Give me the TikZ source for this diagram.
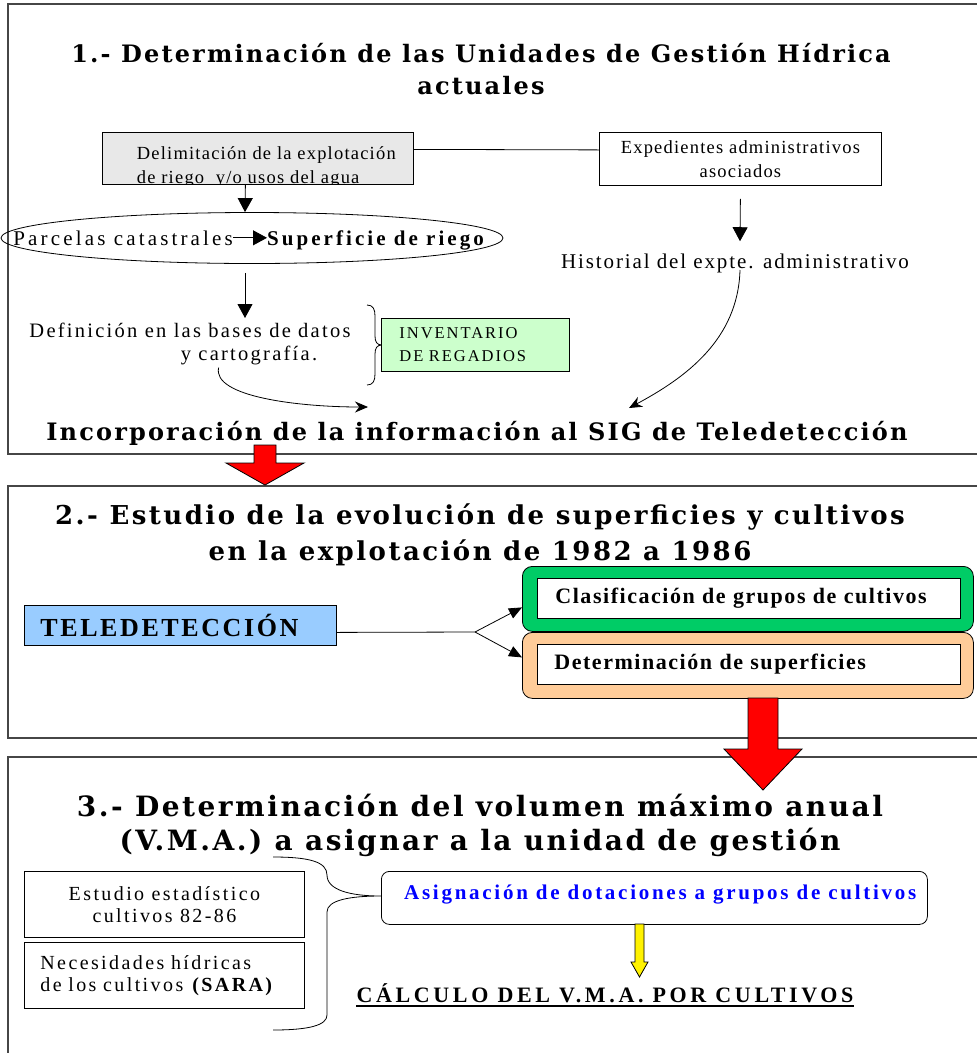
\documentclass[tikz,border=0pt]{standalone}
\usepackage{fontspec}
\setmainfont{Liberation Serif}
\newfontfamily\titfont{DejaVu Serif}
\usetikzlibrary{arrows.meta,shapes.geometric,positioning}

\definecolor{secgray}{RGB}{70,70,70}
\definecolor{grisbox}{RGB}{232,232,232}
\definecolor{verdeinv}{RGB}{204,255,204}
\definecolor{azultele}{RGB}{153,204,255}
\definecolor{verdeclas}{RGB}{0,204,102}
\definecolor{naranja}{RGB}{255,204,153}
\definecolor{azulasig}{RGB}{0,0,255}

\tikzset{
  seccion/.style={draw=secgray,line width=1.3pt},
  caja/.style={draw,line width=0.8pt,inner sep=0pt},
  txt/.style={inner sep=0pt},
  flecha/.style={-{Triangle[width=15pt,length=14pt]},line width=0.8pt},
  flechap/.style={-{Triangle[width=11pt,length=13pt]},line width=0.8pt},
  curva/.style={-{Stealth[width=11pt,length=13pt]},line width=0.8pt},
  bloque/.style={draw,line width=0.8pt,fill=red},
  titulo1/.style={font=\titfont\fontsize{24}{32}\selectfont\bfseries\addfontfeature{LetterSpace=9}},
  titulo2/.style={font=\titfont\fontsize{26}{36}\selectfont\bfseries\addfontfeature{LetterSpace=9.5}},
  titulo3/.style={font=\titfont\fontsize{28}{34}\selectfont\bfseries\addfontfeature{LetterSpace=9}},
  cuerpo/.style={font=\fontsize{18.5}{24}\selectfont\addfontfeature{LetterSpace=6.5}},
  parcf/.style={font=\fontsize{21}{23}\selectfont\addfontfeature{LetterSpace=15}},
  parcb/.style={font=\fontsize{21}{23}\selectfont\bfseries\addfontfeature{LetterSpace=14.5}},
  deff/.style={font=\fontsize{20.5}{23}\selectfont\addfontfeature{LetterSpace=11}},
  histf/.style={font=\fontsize{21}{23}\selectfont\addfontfeature{LetterSpace=9}},
  invf/.style={font=\fontsize{16.5}{23}\selectfont\addfontfeature{LetterSpace=12}},
  telef/.style={font=\fontsize{26}{28}\selectfont\bfseries\addfontfeature{LetterSpace=10}},
  subtf/.style={font=\fontsize{22}{26}\selectfont\bfseries\addfontfeature{LetterSpace=7}},
  estf/.style={font=\fontsize{20}{22}\selectfont\addfontfeature{LetterSpace=12}},
  asigf/.style={font=\fontsize{21}{23}\selectfont\bfseries\addfontfeature{LetterSpace=13}},
  calcf/.style={font=\fontsize{22}{26}\selectfont\bfseries\addfontfeature{LetterSpace=16.5}},
}

\begin{document}
\begin{tikzpicture}[x=1pt,y=-1pt]
\useasboundingbox (0,0) rectangle (977,1053);
\clip (0,0) rectangle (977,1053);

% marcos de las tres fases
\draw[seccion] (8,4) rectangle (990,454);
\draw[seccion] (8,486) rectangle (990,738);
\draw[seccion] (8,757) rectangle (990,1070);

% fase 1
\node[txt,titulo1,align=center] (tit1) at (481,69) {1.- Determinación de las Unidades de Gestión Hídrica\\actuales};

\node[caja,fill=grisbox,minimum width=311pt,minimum height=52pt,anchor=north west,
  path picture={\node[txt,cuerpo,anchor=north west,align=left] at ([shift={(8pt,-8pt)}]path picture bounding box.north west) {Delimitación de la explotación\\de riego\ \ y/o usos del agua};}] (delim) at (102,132) {};
\node[caja,cuerpo,minimum width=282pt,minimum height=53pt,align=center,anchor=north west] (exped) at (599,132) {Expedientes administrativos\\asociados};
\draw[line width=0.8pt] ([yshift=9pt]delim.east) -- ([yshift=9pt]exped.west);

\node[draw,ellipse,line width=0.8pt,minimum width=502pt,minimum height=51pt] (parc) at (252,238) {};
\node[txt,parcf,anchor=base east] (catas) at (233,245) {Parcelas catastrales};
\node[txt,parcb,anchor=base west] (sup) at (267,245) {Superficie de riego};
\draw[flecha] (catas.east) -- (catas.east -| sup.west);
\draw[flecha] ([xshift=-12.5pt]delim.south) -- ([xshift=-7pt]parc.north);

\node[txt,deff,anchor=base] (defA) at (190,337) {Definición en las bases de datos};
\node[txt,deff,anchor=base] (defB) at (249,360) {y cartografía.};
\coordinate (defTip) at (245,318);
\draw[flecha] ([xshift=-7pt,yshift=-9pt]parc.south) -- (defTip);

\node[txt,histf,anchor=base] (hist) at (735,268) {Historial del expte. administrativo};
\draw[flecha] ([yshift=-13pt]exped.south) -- ([xshift=5pt,yshift=12pt]hist.north);

\draw[line width=0.8pt] (367,305) .. controls (373,305) and (375,309) .. (375,316) -- (375,336)
  .. controls (375,342) and (377,345) .. (382,345) .. controls (377,345) and (375,348) .. (375,354)
  -- (375,374) .. controls (375,381) and (373,385) .. (367,385);
\node[caja,fill=verdeinv,invf,minimum width=188pt,minimum height=53pt,text width=152pt,inner xsep=18pt,align=left,anchor=north west] (inv) at (381,318) {INVENTARIO\\DE REGADIOS};

\node[txt,titulo1,anchor=base] (incorp) at (477,440) {Incorporación de la información al SIG de Teledetección};
\coordinate (incIzq) at (368,407);
\coordinate (incDer) at (629,408);
\draw[curva] ([xshift=38pt,yshift=-3pt]defB.south west) .. controls (212,397) and (300,407) .. (incIzq);
\draw[curva] ([xshift=5pt,yshift=-2pt]hist.base) .. controls (738,340) and (685,378) .. (incDer);

\draw[bloque] (254,445) -- (276,445) -- (276,463) -- (304,463) -- (265,485) -- (226,463) -- (254,463) -- cycle;

% fase 2
\node[txt,titulo2,align=center] (tit2) at (480,535) {2.- Estudio de la evolución de superficies y cultivos\\en la explotación de 1982 a 1986};
\node[caja,fill=azultele,telef,minimum width=312pt,minimum height=40pt,text width=280pt,inner xsep=16pt,align=left,anchor=north west] (tele) at (24,605) {TELEDETECCIÓN};

\node[draw,line width=0.8pt,fill=verdeclas,rounded corners=10pt,minimum width=451pt,minimum height=65pt,anchor=north west] (clasout) at (522,566) {};
\node[caja,fill=white,subtf,minimum width=423pt,minimum height=40pt,text width=387pt,inner xsep=18pt,align=left,anchor=north west] (clas) at (537,578) {Clasificación de grupos de cultivos};
\node[draw,line width=0.8pt,fill=naranja,rounded corners=10pt,minimum width=451pt,minimum height=66pt,anchor=north west] (detout) at (522,632) {};
\node[caja,fill=white,subtf,minimum width=423pt,minimum height=40pt,text width=389pt,inner xsep=17pt,align=left,anchor=north west] (det) at (537,644) {Determinación de superficies};

\coordinate (split) at (475,632);
\draw[line width=0.8pt] ([yshift=-7pt]tele.east) -- (split);
\draw[flechap] (split) -- ([yshift=-8.5pt]clasout.west);
\draw[flechap] (split) -- ([yshift=8pt]detout.west);

\draw[bloque] (748,698) -- (778,698) -- (778,749) -- (802,749) -- (763,790) -- (724,749) -- (748,749) -- cycle;

% fase 3
\node[txt,titulo3,align=center] (tit3) at (480,825) {3.- Determinación del volumen máximo anual\\(V.M.A.) a asignar a la unidad de gestión};
\node[caja,estf,minimum width=280pt,minimum height=66pt,align=center,anchor=north west] (est) at (24,871) {Estudio estadístico\\cultivos 82-86};
\node[caja,estf,minimum width=280pt,minimum height=66pt,text width=248pt,inner xsep=16pt,align=left,anchor=north west] (nec) at (24,942) {Necesidades hídricas\\de los cultivos \textbf{(SARA)}};

\draw[line width=0.8pt] (273,857) .. controls (310,857) and (327,862) .. (327,875)
  .. controls (327,890) and (350,896) .. (381,896) .. controls (350,896) and (327,900) .. (327,912)
  -- (327,1015) .. controls (327,1025) and (310,1030) .. (273,1030);

\node[draw,line width=0.8pt,rounded corners=8pt,fill=white,minimum width=546pt,minimum height=53pt,anchor=north west] (asig) at (381,871) {};
\node[txt,asigf,text=azulasig,anchor=west] (asigtxt) at (404,895) {Asignación de dotaciones a grupos de cultivos};

\draw[line width=0.8pt,fill=yellow] (635,924) -- (644,924) -- (644,962) -- (648,962) -- (639.5,977) -- (631,962) -- (635,962) -- cycle;

\node[txt,calcf,anchor=base] (calc) at (605,1002) {CÁLCULO DEL V.M.A. POR CULTIVOS};
\draw[line width=1.5pt] ([yshift=-4pt]calc.base west) -- ([yshift=-4pt]calc.base east);
\end{tikzpicture}
\end{document}
